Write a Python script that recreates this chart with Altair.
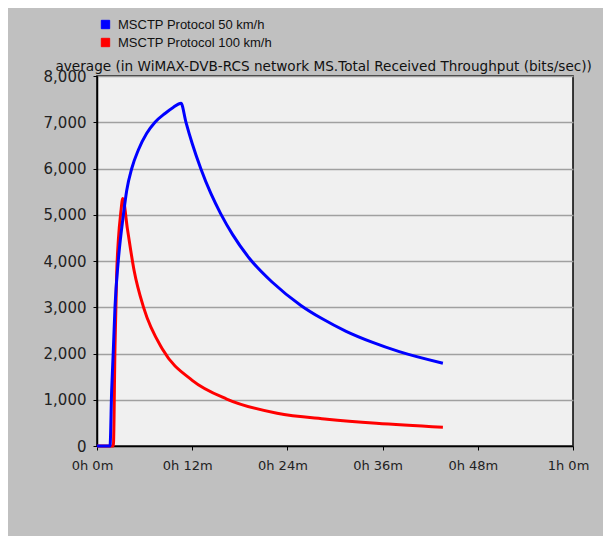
import altair as alt
import pandas as pd

series_names = ["MSCTP Protocol 50 km/h", "MSCTP Protocol 100 km/h"]
series_colors = ["#0000ff", "#ff0000"]

# time in minutes, values in bits/sec
blue_t = [0, 1.64, 1.85, 2.06, 2.27, 2.69, 3.32, 3.75, 4.38, 5.21, 6.27, 7.31, 8.57, 9.6, 10.59,
          11.2, 12.0, 13.1, 14.35, 15.6, 17.1, 19.2, 22.1, 25.7, 28.4, 31.4, 34.75, 38.1, 43.6]
blue_v = [0, 0, 1210, 2080, 3010, 4020, 4990, 5530, 6000, 6400, 6760, 7000, 7190, 7320, 7410,
          7010, 6540, 5990, 5460, 5020, 4570, 4060, 3540, 3040, 2750, 2480, 2240, 2040, 1790]

red_t = [0, 2.06, 2.27, 2.48, 2.69, 3.0, 3.25, 3.83, 4.67, 5.9, 8.3, 12.0, 16.35, 22.7, 29.0,
         35.2, 43.6]
red_v = [0, 0, 2150, 3730, 4450, 5050, 5350, 4700, 3800, 2980, 2080, 1420, 1016, 707, 580,
         490, 404]

x_ticks = [0, 12, 24, 36, 48, 60]
y_ticks = [0, 1000, 2000, 3000, 4000, 5000, 6000, 7000, 8000]
title_text = "average (in WiMAX-DVB-RCS network MS.Total Received Throughput (bits/sec))"

df = pd.concat([
    pd.DataFrame({"t": blue_t, "v": blue_v, "series": series_names[0]}),
    pd.DataFrame({"t": red_t, "v": red_v, "series": series_names[1]}),
], ignore_index=True)

AXFONT = "DejaVu Sans"
LEGFONT = "Liberation Sans"

x_enc = alt.X("t:Q", scale=alt.Scale(domain=[0, 60], nice=False),
              axis=alt.Axis(values=x_ticks, title=None, grid=False,
                            labelExpr="floor(datum.value/60) + 'h ' + (datum.value % 60) + 'm'",
                            tickSize=4, labelPadding=9, labelFontSize=13, labelFont=AXFONT,
                            labelColor="#222222", domainColor="black", tickColor="black",
                            domainWidth=1.5, labelFlush=False, labelOffset=-5))
y_enc = alt.Y("v:Q", scale=alt.Scale(domain=[0, 8000], nice=False),
              axis=alt.Axis(values=y_ticks, format=",d", grid=True,
                            gridColor="#a0a0a0", gridWidth=1.5, tickSize=4, labelPadding=7,
                            labelFontSize=15, labelFont=AXFONT, labelColor="#222222",
                            domainColor="black", tickColor="black", domainWidth=1.5,
                            title=title_text, titleAngle=0, titleX=-42, titleY=-6,
                            titleAlign="left", titleBaseline="alphabetic",
                            titleFont=AXFONT, titleFontSize=13.6, titleFontWeight="normal",
                            titleColor="#111111"))

stroke_scale = alt.Scale(domain=series_names, range=series_colors)

legend_layer = alt.Chart(df).transform_filter("false").mark_square(
    filled=True, stroke="black", strokeWidth=1, opacity=1
).encode(
    x=x_enc, y=y_enc,
    fill=alt.Fill("series:N", scale=alt.Scale(domain=series_names, range=series_colors),
                  legend=alt.Legend(title=None, orient="none", legendX=2, legendY=-58,
                                    symbolType="square", symbolSize=70,
                                    symbolStrokeColor="black", symbolStrokeWidth=1,
                                    labelFontSize=13, labelFont=LEGFONT, labelColor="#111111",
                                    labelOffset=6, rowPadding=4, padding=0, symbolOpacity=1)),
)

red_line = alt.Chart(df).transform_filter(
    alt.datum.series == series_names[1]
).mark_line(strokeWidth=3, interpolate="monotone").encode(
    x=x_enc, y=y_enc,
    color=alt.Color("series:N", scale=stroke_scale, legend=None),
)

blue_line = alt.Chart(df).transform_filter(
    alt.datum.series == series_names[0]
).mark_line(strokeWidth=3, interpolate="monotone").encode(
    x=x_enc, y=y_enc,
    color=alt.Color("series:N", scale=stroke_scale, legend=None),
)

chart = alt.layer(legend_layer, red_line, blue_line).properties(
    width=476, height=370,
    autosize=alt.AutoSizeParams(type="none"),
    padding={"left": 89, "top": 68, "right": 30, "bottom": 90},
    background="#c0c0c0",
).configure_view(fill="#f0f0f0", stroke="black", strokeWidth=1.5)

chart.save("out.html", embed_options={"renderer": "svg", "actions": False})
